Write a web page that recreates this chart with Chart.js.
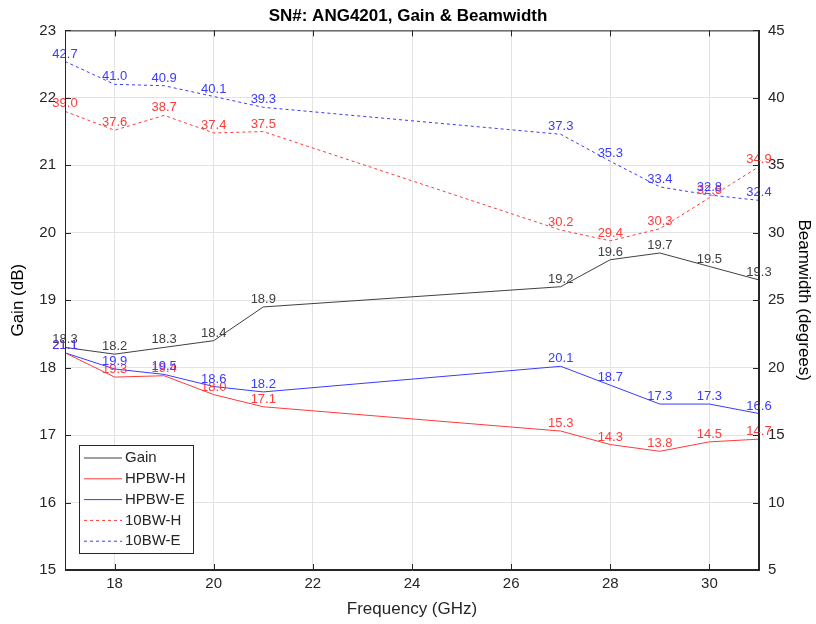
<!DOCTYPE html>
<html>
<head>
<meta charset="utf-8">
<script src="https://cdn.jsdelivr.net/npm/chart.js@4/dist/chart.umd.min.js"></script>
<style>
    body { margin: 0; background: #fff; }
</style>
</head>
<body>
<canvas id="grafico" width="816" height="624"></canvas>
<script>
// frequencias (GHz)
const frequencias = [17, 18, 19, 20, 21, 27, 28, 29, 30, 31];
const ganho = [18.3, 18.2, 18.3, 18.4, 18.9, 19.2, 19.6, 19.7, 19.5, 19.3];
const hpbwH = [21.1, 19.3, 19.4, 18.0, 17.1, 15.3, 14.3, 13.8, 14.5, 14.7];
const hpbwE = [21.1, 19.9, 19.5, 18.6, 18.2, 20.1, 18.7, 17.3, 17.3, 16.6];
const bw10H = [39.0, 37.6, 38.7, 37.4, 37.5, 30.2, 29.4, 30.3, 32.6, 34.9];
const bw10E = [42.7, 41.0, 40.9, 40.1, 39.3, 37.3, 35.3, 33.4, 32.8, 32.4];
const ticksX = [18, 20, 22, 24, 26, 28, 30];

const fonte = '"Liberation Sans", Arial, sans-serif';
const cinza = '#404040';
const vermelho = '#ff3b3b';
const azul = '#3b3bff';

function pontos(valores) {
    return frequencias.map((f, i) => ({ x: f, y: valores[i] }));
}

// rotulos de valor em cima de cada ponto
const pluginRotulos = {
    id: 'rotulos',
    afterDatasetsDraw(chart) {
        const ctx = chart.ctx;
        ctx.save();
        ctx.font = '13px ' + fonte;
        ctx.textAlign = 'center';
        ctx.textBaseline = 'bottom';
        chart.data.datasets.forEach((ds, i) => {
            const meta = chart.getDatasetMeta(i);
            ctx.fillStyle = ds.borderColor;
            meta.data.forEach((p, j) => {
                ctx.fillText(ds.data[j].y.toFixed(1), p.x, p.y - 1);
            });
        });
        ctx.restore();
    }
};

// caixa, ticks internos e legenda estilo matlab
const pluginMoldura = {
    id: 'moldura',
    afterDraw(chart) {
        const ctx = chart.ctx;
        const a = chart.chartArea;
        const x = chart.scales.x, yG = chart.scales.yG;
        ctx.save();
        ctx.strokeStyle = '#262626';
        ctx.lineWidth = 1;
        ctx.strokeRect(a.left + 0.5, a.top + 0.5, a.right - a.left - 1, a.bottom - a.top - 1);
        ctx.beginPath();
        ticksX.forEach(t => {
            const px = Math.round(x.getPixelForValue(t)) + 0.5;
            ctx.moveTo(px, a.bottom); ctx.lineTo(px, a.bottom - 6);
            ctx.moveTo(px, a.top); ctx.lineTo(px, a.top + 6);
        });
        for (let v = 15; v <= 23; v++) {
            const py = Math.round(yG.getPixelForValue(v)) + 0.5;
            ctx.moveTo(a.left, py); ctx.lineTo(a.left + 6, py);
            ctx.moveTo(a.right, py); ctx.lineTo(a.right - 6, py);
        }
        ctx.stroke();

        // legenda
        const lx = 79, ly = 445, lw = 114, lh = 108;
        ctx.fillStyle = '#fff';
        ctx.fillRect(lx, ly, lw, lh);
        ctx.strokeStyle = '#262626';
        ctx.strokeRect(lx + 0.5, ly + 0.5, lw, lh);
        ctx.font = '15px ' + fonte;
        ctx.textBaseline = 'middle';
        ctx.textAlign = 'left';
        chart.data.datasets.forEach((ds, i) => {
            const yy = ly + 13 + i * 20.8;
            ctx.strokeStyle = ds.borderColor;
            ctx.setLineDash(ds.borderDash || []);
            ctx.beginPath();
            ctx.moveTo(lx + 5, yy); ctx.lineTo(lx + 43, yy);
            ctx.stroke();
            ctx.setLineDash([]);
            ctx.fillStyle = '#262626';
            ctx.fillText(ds.label, lx + 46, yy);
        });
        ctx.restore();
    }
};

const ctx = document.getElementById('grafico').getContext('2d');
new Chart(ctx, {
    type: 'line',
    data: {
        datasets: [
            { label: 'Gain', data: pontos(ganho), yAxisID: 'yG', borderColor: cinza },
            { label: 'HPBW-H', data: pontos(hpbwH), yAxisID: 'yB', borderColor: vermelho },
            { label: 'HPBW-E', data: pontos(hpbwE), yAxisID: 'yB', borderColor: azul },
            { label: '10BW-H', data: pontos(bw10H), yAxisID: 'yB', borderColor: vermelho, borderDash: [3, 3] },
            { label: '10BW-E', data: pontos(bw10E), yAxisID: 'yB', borderColor: azul, borderDash: [3, 3] }
        ]
    },
    options: {
        responsive: false,
        animation: false,
        elements: {
            line: { borderWidth: 1, tension: 0 },
            point: { radius: 0 }
        },
        layout: { padding: 0 },
        plugins: {
            legend: { display: false },
            tooltip: { enabled: false },
            title: {
                display: true,
                text: 'SN#: ANG4201, Gain & Beamwidth',
                color: '#000',
                font: { family: fonte, size: 17, weight: 'bold' },
                padding: { top: 6, bottom: 4 }
            }
        },
        scales: {
            x: {
                type: 'linear',
                min: 17,
                max: 31,
                afterBuildTicks: s => { s.ticks = ticksX.map(v => ({ value: v })); },
                afterFit: s => { s.height = 54; },
                ticks: { color: '#262626', font: { family: fonte, size: 15 }, padding: 5 },
                grid: { color: '#e3e3e3', drawTicks: false },
                border: { color: '#262626' },
                title: { display: true, text: 'Frequency (GHz)', color: '#262626', font: { family: fonte, size: 17 }, padding: { top: 2 } }
            },
            yG: {
                position: 'left',
                min: 15,
                max: 23,
                afterFit: s => { s.width = 65; },
                ticks: { stepSize: 1, color: '#262626', font: { family: fonte, size: 15 }, padding: 9 },
                grid: { color: '#e3e3e3', drawTicks: false },
                border: { color: '#262626' },
                title: { display: true, text: 'Gain (dB)', color: '#000', font: { family: fonte, size: 17 }, padding: { top: 8 } }
            },
            yB: {
                position: 'right',
                min: 5,
                max: 45,
                afterFit: s => { s.width = 57; },
                ticks: { stepSize: 5, color: '#262626', font: { family: fonte, size: 15 }, padding: 9 },
                grid: { display: false, drawTicks: false },
                border: { color: '#262626' },
                title: { display: true, text: 'Beamwidth (degrees)', color: '#000', font: { family: fonte, size: 17 }, padding: { top: 2 } }
            }
        }
    },
    plugins: [pluginRotulos, pluginMoldura]
});
</script>
</body>
</html>
